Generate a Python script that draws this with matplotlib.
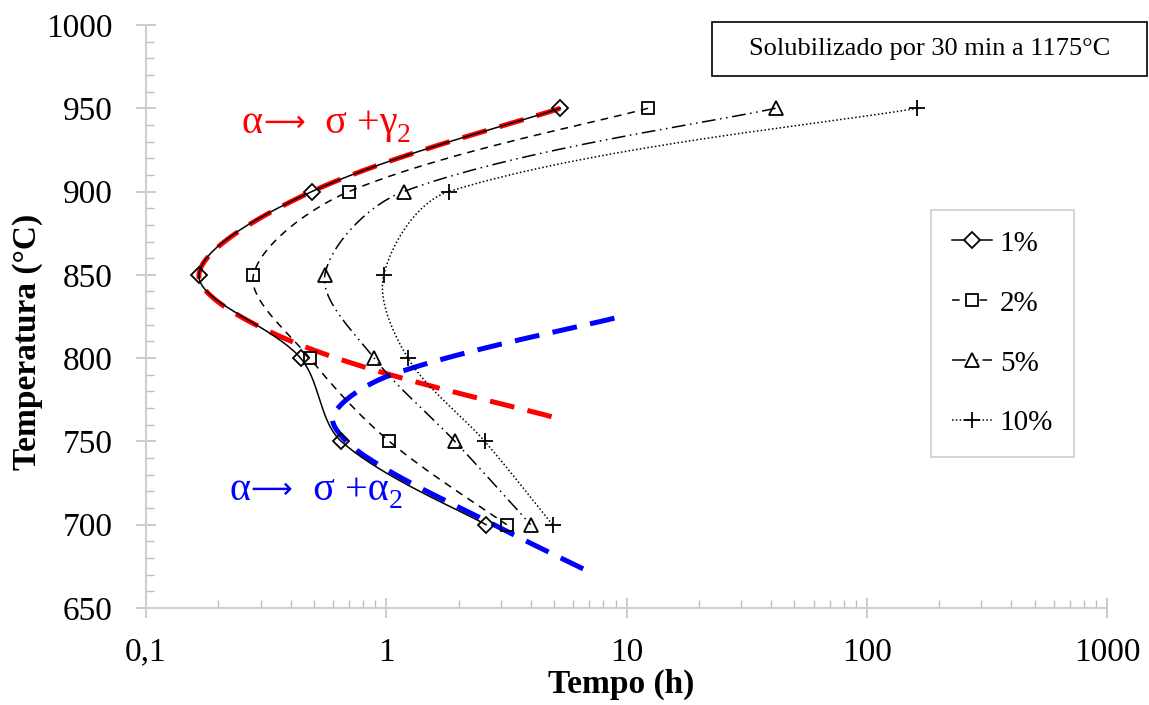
import numpy as np
import matplotlib
matplotlib.use('Agg')
import matplotlib.pyplot as plt
from matplotlib.patches import Rectangle
from matplotlib.transforms import offset_copy

plt.rcParams['font.family'] = ['Liberation Serif', 'DejaVu Serif']

temp = [950, 900, 850, 800, 750, 700]
t_1 = [5.3, 0.49, 0.166, 0.44, 0.65, 2.6]
t_2 = [12.3, 0.70, 0.28, 0.48, 1.03, 3.17]
t_5 = [41.7, 1.18, 0.555, 0.89, 1.93, 3.99]
t_10 = [162, 1.82, 0.976, 1.23, 2.57, 4.92]

# fronteiras desenhadas a mao sobre as curvas
gama_t = [5.3, 0.49, 0.166, 0.437, 5.12]
gama_T = [950, 900, 850, 808, 764]
alfa_t = [8.9, 1.05, 0.6, 0.8, 2.8, 7.4]
alfa_T = [824, 790, 765, 742, 700, 670]

xtick_vals = [0.1, 1, 10, 100, 1000]
xtick_txt = ['0,1', '1', '10', '100', '1000']
ytick_vals = [650, 700, 750, 800, 850, 900, 950, 1000]

# escala em pixels por decada / por grau, p/ suavizar como o excel
SX, SY = 240.5, 583 / 350


def suaviza(xs, ys, n=40):
    P = np.column_stack([np.log10(xs) * SX, np.array(ys, float) * SY])
    out = [P[0]]
    for i in range(len(P) - 1):
        a, b = P[i], P[i + 1]
        pa = P[i - 1] if i > 0 else a
        pb = P[i + 2] if i + 2 < len(P) else b
        d0 = np.linalg.norm(a - pa)
        d1 = np.linalg.norm(b - a)
        d2 = np.linalg.norm(pb - b)
        if i > 0:
            c1 = a + (b - pa) * d1 / (d0 + d1) / 3
        else:
            c1 = a + (b - a) / 6
        if i + 2 < len(P):
            c2 = b - (pb - a) * d1 / (d1 + d2) / 3
        else:
            c2 = b - (b - a) / 6
        t = np.linspace(0, 1, n)[1:, None]
        seg = (1 - t)**3 * a + 3 * (1 - t)**2 * t * c1 + 3 * (1 - t) * t**2 * c2 + t**3 * b
        out.extend(seg)
    out = np.array(out)
    return 10 ** (out[:, 0] / SX), out[:, 1] / SY


def reacao(x, y, final, cor):
    # monta o rotulo por partes: seta mais fina e subscrito deslocado
    partes = [('α', 29, 'Liberation Serif', 0),
              ('⟶', 21, 'DejaVu Sans', 1.5),
              ('  σ +' + final, 29, 'Liberation Serif', 0),
              ('2', 20, 'Liberation Serif', -6)]
    r = fig.canvas.get_renderer()
    dx = 0
    for txt, size, fam, dy in partes:
        tr = offset_copy(ax.transData, fig=fig, x=dx, y=dy, units='points')
        t = ax.text(x, y, txt, transform=tr, fontsize=size, family=fam, color=cor,
                    va='baseline')
        dx += t.get_window_extent(r).width * 72 / fig.dpi


fig = plt.figure(figsize=(11.49, 7.05), dpi=100)
ax = fig.add_axes([0.1271, 0.1376, 0.8364, 0.8270])

series = [
    (t_1, '1%', '-', 'D', 8.5),
    (t_2, '2%', (0, (5, 4)), 's', 9),
    (t_5, '5%', (0, (9, 3, 1, 3, 1, 3)), '^', 10),
    (t_10, '10%', (0, (1, 1.5)), '+', 12),
]
handles = []
for t, lab, ls, mk, ms in series:
    xs, ys = suaviza(t, temp)
    ax.plot(xs, ys, color='black', lw=1.1, ls=ls, zorder=3)
    ax.plot(t, temp, ls='none', marker=mk, ms=ms, mfc='none', mec='black', mew=1.3, zorder=4)
    h, = ax.plot([], [], color='black', lw=1.1, ls=ls, marker=mk, ms=ms,
                 mfc='white', mec='black', mew=1.3, label=lab)
    handles.append(h)

xs, ys = suaviza(gama_t, gama_T)
ax.plot(xs, ys, color='#ff0000', lw=3.6, ls=(0, (5, 2.7)), zorder=2)
xs, ys = suaviza(alfa_t, alfa_T)
ax.plot(xs, ys, color='#0000ff', lw=3.6, ls=(0, (5, 2.7)), zorder=2)

ax.set_xscale('log')
ax.set_xlim(0.1, 1000)
ax.set_ylim(650, 1000)
ax.set_xticks(xtick_vals, xtick_txt)
ax.set_xticks([m * d for d in [0.1, 1, 10, 100] for m in range(2, 10)], minor=True)
ax.xaxis.set_minor_formatter(plt.NullFormatter())
ax.set_yticks(ytick_vals)
ax.set_yticks(np.arange(650, 1001, 10), minor=True)

reacao(0.2506, 935, 'γ', '#ff0000')
reacao(0.2233, 715, 'α', '#0000ff')

for s in ['top', 'right']:
    ax.spines[s].set_visible(False)
for s in ['left', 'bottom']:
    ax.spines[s].set_color('#cfcfcf')
    ax.spines[s].set_linewidth(1.5)
ax.tick_params(which='major', direction='inout', length=14, width=1.1, color='#bdbdbd',
               labelsize=24, pad=14)
ax.tick_params(axis='y', which='major', pad=17)
ax.tick_params(which='minor', direction='in', length=6, width=1.0, color='#bdbdbd')

leg = ax.legend(handles=handles, loc='upper left', bbox_to_anchor=(0.817, 0.683),
                borderaxespad=0, fontsize=21, frameon=True, fancybox=False,
                edgecolor='#c0c0c0', handlelength=1.4, handletextpad=0.25,
                labelspacing=1.15, borderpad=0.7)
leg.get_frame().set_linewidth(1.2)

fig.patches.append(Rectangle((0.6197, 0.8922), 0.3786, 0.0766, transform=fig.transFigure,
                             fill=False, edgecolor='black', lw=1.2))
fig.text(0.809, 0.9305, 'Solubilizado por 30 min a 1175°C', fontsize=19,
         ha='center', va='center')

fig.text(0.5405, 0.0298, 'Tempo (h)', fontsize=24, fontweight='bold', ha='center', va='center')
fig.text(0.0235, 0.515, 'Temperatura (°C)', fontsize=24, fontweight='bold',
         rotation=90, ha='center', va='center')

fig.savefig('out.png', dpi=100)
